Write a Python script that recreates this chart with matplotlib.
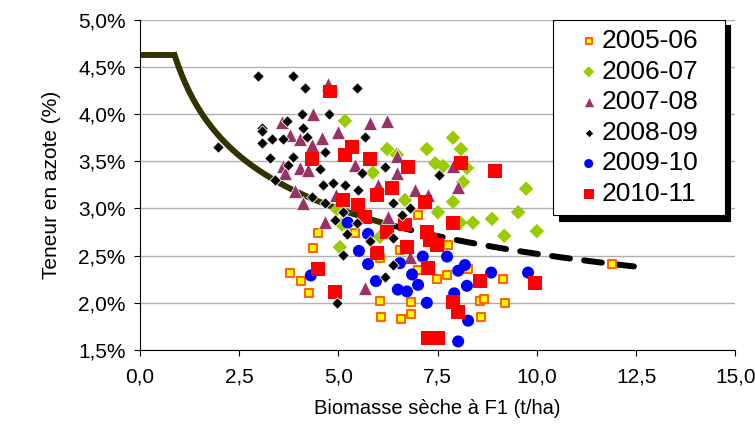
import numpy as np
import matplotlib
matplotlib.use("Agg")
from matplotlib import pyplot as plt
from matplotlib.ticker import FuncFormatter

plt.rcParams['font.family'] = ['Liberation Sans', 'DejaVu Sans']

# 2005-06 : yellow squares
x0506 = [4.49, 4.36, 5.42, 7.01, 7.76, 6.55, 3.78, 4.06, 4.26, 6.05, 7.01, 7.49, 7.74,
         6.05, 6.83, 6.08, 6.58, 6.83, 8.27, 9.15, 8.57, 8.67, 9.20, 8.60, 11.90]
y0506 = [2.74, 2.58, 2.74, 2.93, 2.61, 2.56, 2.32, 2.23, 2.10, 2.48, 2.35, 2.25, 2.29,
         2.02, 2.01, 1.85, 1.83, 1.88, 2.36, 2.25, 2.02, 2.04, 2.00, 1.85, 2.41]

# 2006-07 : green diamonds
x0607 = [5.17, 6.23, 6.48, 7.23, 7.89, 8.09, 7.44, 7.64, 8.24, 5.87, 8.14, 6.68, 7.89,
         7.51, 9.73, 9.53, 8.07, 8.39, 8.87, 9.18, 10.00, 6.05, 5.09, 5.04, 4.97]
y0607 = [3.93, 3.63, 3.57, 3.63, 3.75, 3.63, 3.48, 3.45, 3.43, 3.38, 3.28, 3.09, 3.07,
         2.96, 3.21, 2.96, 2.85, 2.85, 2.89, 2.71, 2.76, 2.70, 2.83, 2.59, 2.99]

# 2007-08 : purple triangles
x0708 = [4.74, 4.36, 3.58, 3.78, 4.99, 4.59, 4.34, 4.03, 5.42, 3.60, 5.80, 6.23, 6.48,
         7.89, 4.03, 4.24, 3.66, 3.91, 4.11, 4.94, 4.66, 6.48, 6.00, 6.93, 7.26, 8.02,
         6.25, 5.67, 6.81]
y0708 = [4.32, 4.00, 3.92, 3.78, 3.81, 3.75, 3.67, 3.74, 3.46, 3.45, 3.91, 3.93, 3.56,
         3.45, 3.43, 3.41, 3.38, 3.18, 3.06, 3.14, 2.86, 3.38, 3.25, 3.20, 3.14, 3.23,
         2.91, 2.16, 2.49]

# 2008-09 : black diamonds
x0809 = [2.99, 3.08, 1.97, 3.86, 4.16, 5.47, 4.08, 4.76, 3.71, 4.11, 3.08, 3.33, 3.60,
         4.21, 3.08, 5.67, 4.66, 3.86, 3.28, 3.73, 4.54, 3.40, 4.61, 4.87, 5.17, 5.50,
         5.60, 4.34, 4.66, 5.12, 4.92, 5.47, 5.22, 5.12, 4.97, 6.18, 7.54, 6.38, 6.81,
         6.60, 6.38, 5.80, 6.38, 6.18]
y0809 = [4.40, 3.85, 3.65, 4.41, 4.28, 4.28, 4.00, 4.00, 3.93, 3.85, 3.82, 3.74, 3.74,
         3.76, 3.69, 3.76, 3.60, 3.55, 3.53, 3.46, 3.42, 3.30, 3.25, 3.27, 3.25, 3.20,
         3.38, 3.12, 3.06, 2.96, 2.88, 2.85, 2.73, 2.51, 2.00, 3.44, 3.36, 3.06, 3.01,
         2.93, 2.69, 2.65, 2.40, 2.27]

# 2009-10 : blue circles
x0910 = [5.24, 5.75, 5.52, 7.74, 4.31, 5.75, 6.55, 7.13, 8.19, 8.02, 6.86, 5.95, 6.50,
         6.73, 7.01, 8.24, 7.92, 7.23, 8.27, 8.02, 8.85, 9.78]
y0910 = [2.85, 2.73, 2.55, 2.49, 2.29, 2.41, 2.42, 2.49, 2.40, 2.34, 2.30, 2.23, 2.14,
         2.12, 2.19, 2.18, 2.10, 2.00, 1.81, 1.59, 2.32, 2.32]

# 2010-11 : red squares
x1011 = [4.79, 5.34, 5.17, 4.34, 5.80, 6.76, 8.09, 8.95, 5.12, 5.50, 5.67, 6.35, 5.97,
         7.18, 7.89, 6.68, 6.23, 7.23, 7.31, 7.49, 5.97, 6.73, 4.49, 4.92, 7.26, 7.89,
         8.02, 7.26, 7.51, 8.57, 9.96]
y1011 = [4.24, 3.65, 3.57, 3.52, 3.52, 3.44, 3.48, 3.40, 3.09, 3.04, 2.91, 3.22, 3.14,
         3.07, 2.85, 2.83, 2.75, 2.75, 2.67, 2.61, 2.53, 2.59, 2.36, 2.11, 2.37, 2.01,
         1.90, 1.63, 1.63, 2.23, 2.21]

# critical N dilution curve (rapeseed): 4.63 % below 0.88 t/ha, then 4.48 W^-0.25
w_plateau = [0.0, 0.88]
n_plateau = [4.63, 4.63]
w_solid = np.linspace(0.88, 6.3, 60)
w_dash = np.linspace(6.4, 12.5, 60)

fig, ax = plt.subplots(figsize=(7.55, 4.32), dpi=100)
fig.subplots_adjust(left=0.185, right=0.974, bottom=0.19, top=0.954)

ax.plot(w_plateau, n_plateau, color="#333300", lw=4.3, solid_capstyle="butt", zorder=2)
ax.plot(w_solid, 4.48 * w_solid ** -0.25, color="#333300", lw=4.3, zorder=2)
ax.plot(w_dash, 4.48 * w_dash ** -0.25, color="black", lw=4.3, dashes=(3.0, 2.4),
        dash_capstyle="round", zorder=2)

ax.scatter(x0506, y0506, marker="s", s=36, c="#FFFF00", edgecolors="#FF6600", linewidths=1.5, label="2005-06", zorder=3)
ax.scatter(x0607, y0607, marker="D", s=55, c="#99CC00", edgecolors="none", label="2006-07", zorder=3)
ax.scatter(x0708, y0708, marker="^", s=100, c="#993366", edgecolors="white", linewidths=0.5, label="2007-08", zorder=3)
ax.scatter(x0809, y0809, marker="D", s=34, c="black", edgecolors="white", linewidths=0.6, label="2008-09", zorder=4)
ax.scatter(x0910, y0910, marker="o", s=75, c="#0000FF", edgecolors="none", label="2009-10", zorder=3)
ax.scatter(x1011, y1011, marker="s", s=100, c="#FF0000", edgecolors="none", label="2010-11", zorder=3)

ax.set_xlim(0, 15)
ax.set_ylim(1.5, 5.0)
ax.set_xticks(np.arange(0, 15.1, 2.5))
ax.set_yticks(np.arange(1.5, 5.01, 0.5))
ax.xaxis.set_major_formatter(FuncFormatter(lambda v, p: f"{v:.1f}".replace(".", ",")))
ax.yaxis.set_major_formatter(FuncFormatter(lambda v, p: f"{v:.1f}%".replace(".", ",")))
ax.tick_params(labelsize=15, direction="out", length=4)
ax.tick_params(axis="x", pad=9)
ax.tick_params(axis="y", pad=6)
ax.grid(axis="y", color="#b0b0b0", lw=1)
ax.set_axisbelow(True)
for s in ["top", "right"]:
    ax.spines[s].set_visible(False)
ax.set_xlabel("Biomasse sèche à F1 (t/ha)", fontsize=14.5, labelpad=9)
ax.set_ylabel("Teneur en azote (%)", fontsize=15, labelpad=12)

leg = ax.legend(loc="upper left", bbox_to_anchor=(0.694, 0.0, 0.288, 1.0), mode="expand",
                fontsize=19, markerscale=0.75,
                handletextpad=-0.5, labelspacing=0.25, borderpad=0.35, handlelength=2.0,
                borderaxespad=0.0, fancybox=False, framealpha=1, edgecolor="black",
                shadow={"color": "black", "alpha": 1, "ox": 4, "oy": -4})
leg.get_frame().set_linewidth(0.8)

fig.savefig("out.png", dpi=100)
